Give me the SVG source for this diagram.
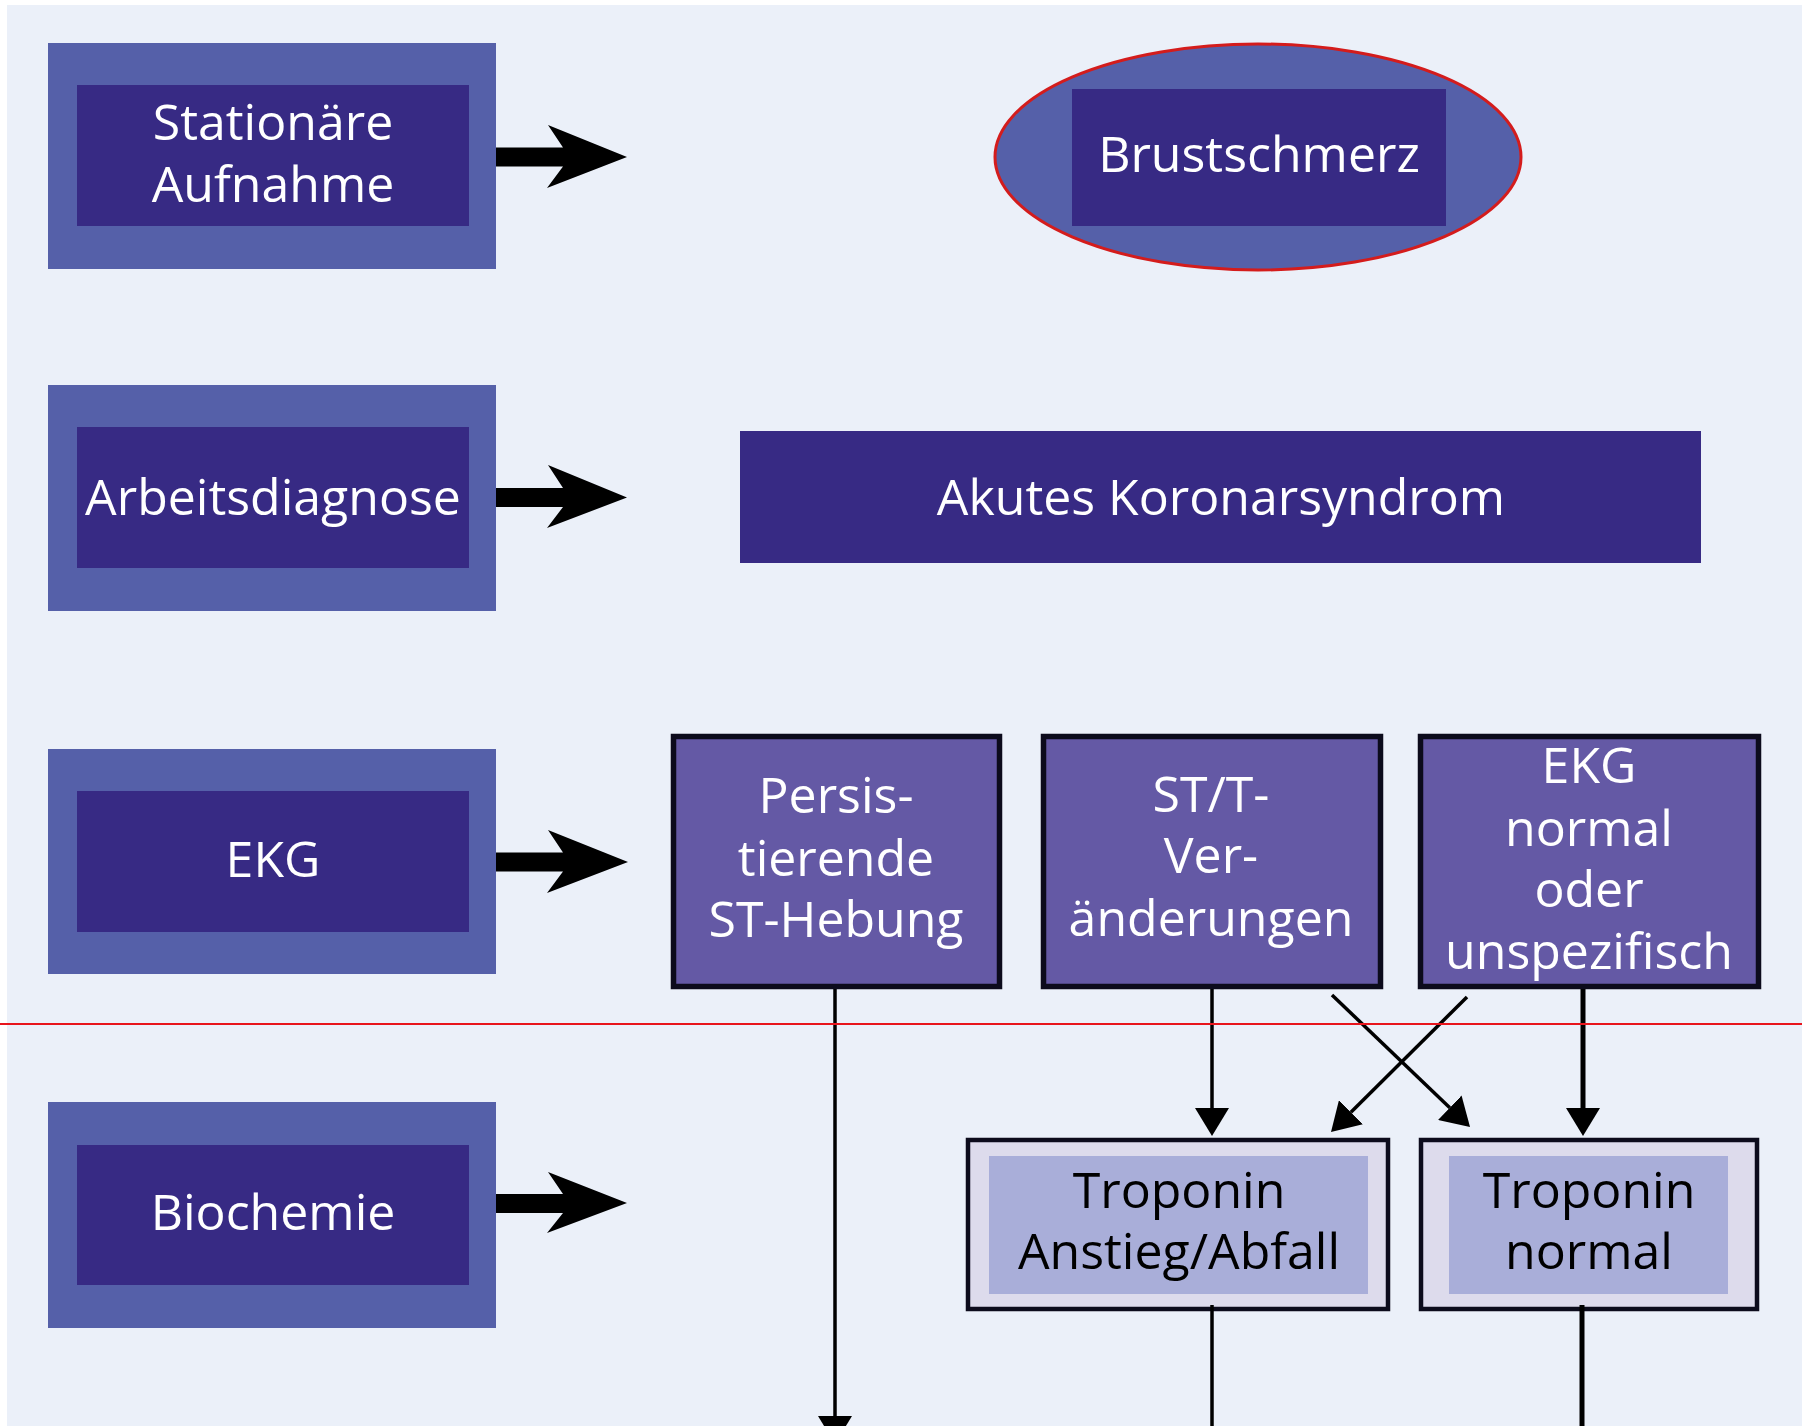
<svg xmlns="http://www.w3.org/2000/svg" width="1802" height="1426" viewBox="0 0 1802 1426">
<defs>
<style>
.outer{fill:#5560a9}
.inner{fill:#372a84}
.mid{fill:#6459a5;stroke:#0c0b1c;stroke-width:5.5}
.tro{fill:#dddbec;stroke:#0c0b1c;stroke-width:4.5}
.troin{fill:#a9aed9}
.t{font-family:"Open Sans","Noto Sans","Liberation Sans",sans-serif;font-size:50px;text-anchor:middle;fill:#ffffff}
.tb{fill:#000000}
.bigarrow{fill:#000000}
.ln{stroke:#000000;stroke-width:3.5;fill:none}
.lnb{stroke:#000000;stroke-width:5;fill:none}
</style>
<marker id="ah" viewBox="0 -17 28 34" markerWidth="28" markerHeight="34" refX="0" refY="0" markerUnits="userSpaceOnUse" orient="auto">
<path d="M0,-17 L28,0 L0,17 Z" fill="#000000"/>
</marker>
</defs>
<rect x="0" y="0" width="1802" height="1426" fill="#ffffff"/>
<rect x="7" y="5" width="1795" height="1421" fill="#ebf0f9"/>

<g id="stationaere-aufnahme">
<rect class="outer" x="48" y="43" width="448" height="226"/>
<rect class="inner" x="77" y="85" width="392" height="141"/>
<text class="t" x="273" y="140">Stationäre</text>
<text class="t" x="273" y="202">Aufnahme</text>
</g>

<g id="brustschmerz">
<ellipse cx="1258" cy="157" rx="263" ry="113" fill="#5560a9" stroke="#d41c1c" stroke-width="3"/>
<rect class="inner" x="1072" y="89" width="374" height="137"/>
<text class="t" x="1259" y="172">Brustschmerz</text>
</g>

<g id="arbeitsdiagnose">
<rect class="outer" x="48" y="385" width="448" height="226"/>
<rect class="inner" x="77" y="427" width="392" height="141"/>
<text class="t" x="273" y="515">Arbeitsdiagnose</text>
</g>

<g id="akutes-koronarsyndrom">
<rect class="inner" x="740" y="431" width="961" height="132"/>
<text class="t" x="1221" y="515">Akutes Koronarsyndrom</text>
</g>

<g id="ekg">
<rect class="outer" x="48" y="749" width="448" height="225"/>
<rect class="inner" x="77" y="791" width="392" height="141"/>
<text class="t" x="273" y="877">EKG</text>
</g>

<g id="persistierende-st-hebung">
<rect class="mid" x="673.5" y="736.5" width="326" height="250"/>
<text class="t" x="836" y="813">Persis-</text>
<text class="t" x="836" y="876">tierende</text>
<text class="t" x="836" y="937">ST-Hebung</text>
</g>

<g id="st-t-veraenderungen">
<rect class="mid" x="1043.5" y="736.5" width="337" height="250"/>
<text class="t" x="1211" y="812">ST/T-</text>
<text class="t" x="1211" y="873">Ver-</text>
<text class="t" x="1211" y="936">änderungen</text>
</g>

<g id="ekg-normal">
<rect class="mid" x="1420.5" y="736.5" width="338" height="250"/>
<text class="t" x="1589" y="783">EKG</text>
<text class="t" x="1589" y="846">normal</text>
<text class="t" x="1589" y="907">oder</text>
<text class="t" x="1589" y="969">unspezifisch</text>
</g>

<g id="biochemie">
<rect class="outer" x="48" y="1102" width="448" height="226"/>
<rect class="inner" x="77" y="1145" width="392" height="140"/>
<text class="t" x="273" y="1230">Biochemie</text>
</g>

<g id="troponin-anstieg">
<rect class="tro" x="968" y="1140" width="420" height="169"/>
<rect class="troin" x="989" y="1156" width="379" height="138"/>
<text class="t tb" x="1179" y="1208">Troponin</text>
<text class="t tb" x="1179" y="1269">Anstieg/Abfall</text>
</g>

<g id="troponin-normal">
<rect class="tro" x="1421" y="1140" width="336" height="169"/>
<rect class="troin" x="1449" y="1156" width="279" height="138"/>
<text class="t tb" x="1589" y="1208">Troponin</text>
<text class="t tb" x="1589" y="1269">normal</text>
</g>

<g id="connectors">
<path class="bigarrow" d="M496,147.5 L563,147.5 L548,125 L627,157 L547,188 L563,166.5 L496,166.5 Z"/>
<path class="bigarrow" d="M496,488 L563,488 L548,465 L627,497.5 L547,528 L563,507 L496,507 Z"/>
<path class="bigarrow" d="M496,852.5 L563,852.5 L548,830 L628,862 L547,893 L563,871.5 L496,871.5 Z"/>
<path class="bigarrow" d="M496,1194 L563,1194 L548,1172 L627,1203 L547,1233 L563,1213 L496,1213 Z"/>
<line class="ln" x1="835" y1="989" x2="835" y2="1416" marker-end="url(#ah)"/>
<line class="ln" x1="1212" y1="989" x2="1212" y2="1108" marker-end="url(#ah)"/>
<line class="lnb" x1="1583" y1="989" x2="1583" y2="1108" marker-end="url(#ah)"/>
<line class="ln" x1="1332" y1="995" x2="1449.8" y2="1107.7" marker-end="url(#ah)"/>
<line class="ln" x1="1467" y1="997" x2="1350.9" y2="1112.3" marker-end="url(#ah)"/>
<line class="ln" x1="1212" y1="1305" x2="1212" y2="1426"/>
<line class="lnb" x1="1582" y1="1305" x2="1582" y2="1426"/>
</g>

<g id="divider">
<line x1="0" y1="1024" x2="1802" y2="1024" stroke="#e8141c" stroke-width="2"/>
</g>
</svg>
